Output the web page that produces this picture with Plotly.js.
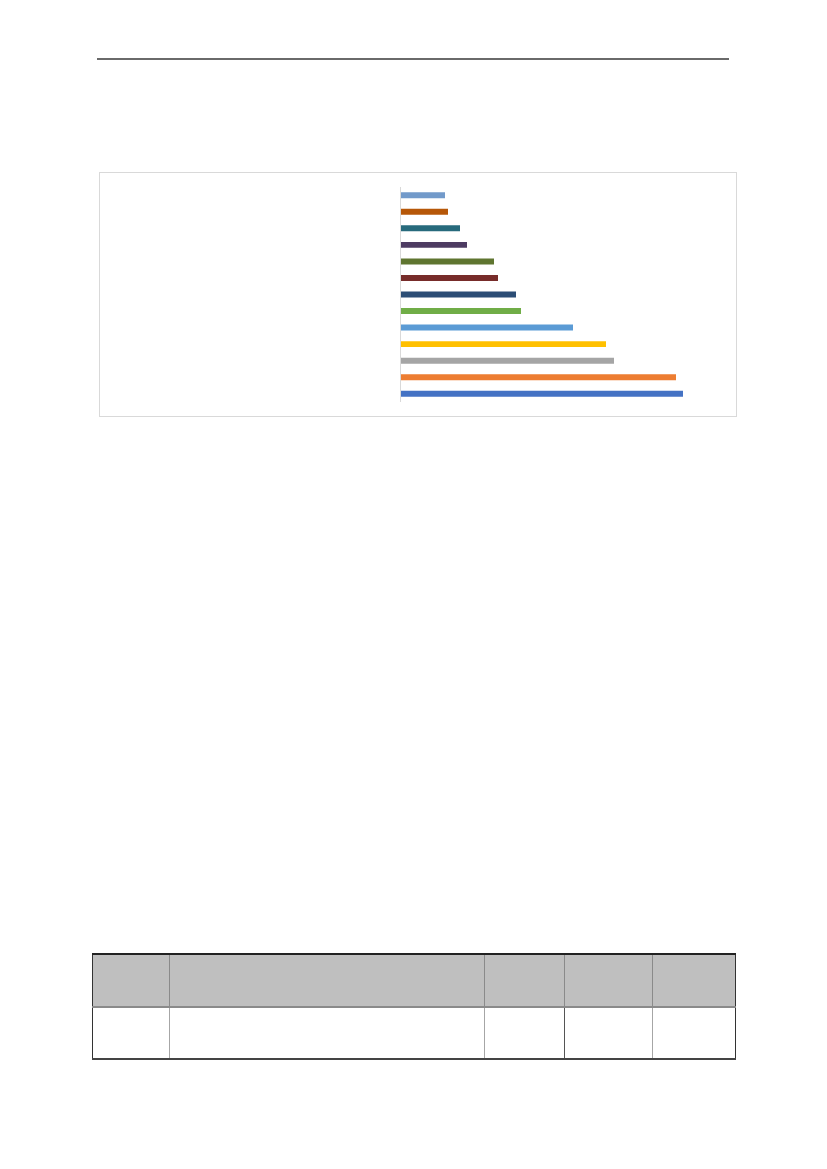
<!DOCTYPE html>
<html>
<head>
<meta charset="utf-8">
<script src="https://cdn.plot.ly/plotly-3.0.1.min.js"></script>
<style>
	body { margin: 0; background: #fff; width: 827px; height: 1169px; position: relative; overflow: hidden; }
	#rule { position: absolute; left: 97px; top: 58px; width: 632px; height: 0; border-top: 2px solid #6a6a6a; }
	#frame { position: absolute; left: 99px; top: 172px; width: 636px; height: 243px; border: 1px solid #d9d9d9; }
	#chart { position: absolute; left: 99px; top: 172px; width: 638px; height: 245px; }
	#tbl { position: absolute; left: 92px; top: 953px; border-collapse: collapse; }
	#tbl td { padding: 0; }
	#tbl tr.head td { background: #bfbfbf; height: 51px; border-left: 1px solid #8a8a8a; border-top: 2px solid #222; border-bottom: 2px solid #8a8a8a; }
	#tbl tr.body td { height: 50px; border-left: 1px solid #a6a6a6; border-bottom: 2px solid #444; }
	#tbl td:first-child { border-left: 1px solid #333 !important; }
	#tbl td:last-child { border-right: 1px solid #333; }
	#tbl tr.body td.dk { border-left: 1px solid #555; }
</style>
</head>
<body>
<div id="rule"></div>
<div id="frame"></div>
<div id="chart"></div>
<table id="tbl">
	<tr class="head"><td style="width:76px"></td><td style="width:314px"></td><td style="width:79px"></td><td style="width:87px"></td><td style="width:82px"></td></tr>
	<tr class="body"><td></td><td></td><td></td><td class="dk"></td><td></td></tr>
</table>
<script>
// bottom to top, as drawn
var categories = ['Item 1', 'Item 2', 'Item 3', 'Item 4', 'Item 5', 'Item 6', 'Item 7',
	'Item 8', 'Item 9', 'Item 10', 'Item 11', 'Item 12', 'Item 13'];
var values = [282, 275, 213, 205, 172, 120, 115, 97, 93, 66, 59, 47, 44];
var barColors = ['#4472C4', '#ED7D31', '#A5A5A5', '#FFC000', '#5B9BD5', '#70AD47', '#2C4D75',
	'#772C2A', '#5F7530', '#4D3B62', '#276A7C', '#B65708', '#729ACA'];

var trace = {
	y: categories,
	x: values,
	type: 'bar',
	orientation: 'h',
	width: 0.36,
	marker: {color: barColors, line: {width: 0}},
	hoverinfo: 'none'
};

var layout = {
	width: 638,
	height: 245,
	margin: {t: 15, b: 15, l: 302, r: 36, pad: 0},
	paper_bgcolor: 'rgba(0,0,0,0)',
	plot_bgcolor: 'rgba(0,0,0,0)',
	showlegend: false,
	xaxis: {range: [0, 300], visible: false, showgrid: false, zeroline: false},
	yaxis: {
		showline: true,
		linecolor: '#d9d9d9',
		linewidth: 1,
		showticklabels: false,
		ticks: '',
		showgrid: false,
		zeroline: false
	}
};

Plotly.newPlot('chart', [trace], layout, {staticPlot: true, displayModeBar: false});
</script>
</body>
</html>
